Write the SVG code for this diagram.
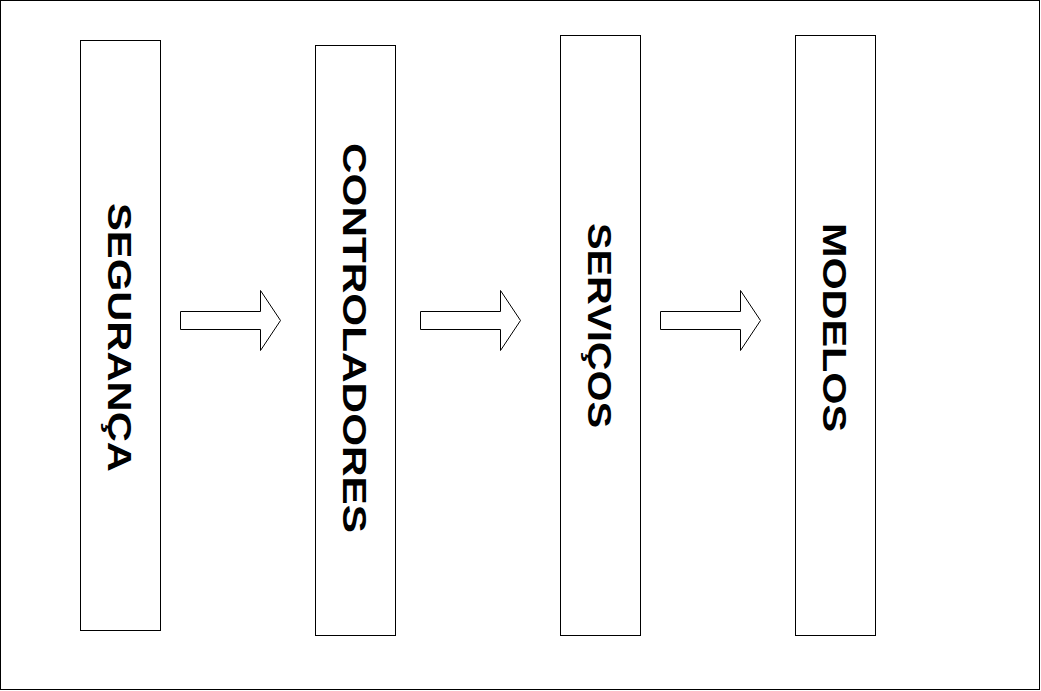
<svg xmlns="http://www.w3.org/2000/svg" width="1041" height="691" viewBox="0 0 1041 691">
<style>
.box{fill:#fff;stroke:#000;stroke-width:1}
.arr{fill:#fff;stroke:#000;stroke-width:1;stroke-linejoin:miter}
.lbl{font-family:"Liberation Sans",Arial,sans-serif;font-weight:bold;font-size:33px;fill:#000;text-anchor:middle}
</style>
<rect x="0.5" y="0.5" width="1039" height="689" fill="#fff" stroke="#000" stroke-width="1"/>
<g id="node-seguranca">
<rect class="box" x="80.5" y="40.5" width="80" height="590"/>
<text class="lbl" transform="translate(108,337.5) rotate(90)" textLength="269" lengthAdjust="spacingAndGlyphs">SEGURANÇA</text>
</g>
<g id="node-controladores">
<rect class="box" x="315.5" y="45.5" width="80" height="590"/>
<text class="lbl" transform="translate(343,338) rotate(90)" textLength="390" lengthAdjust="spacingAndGlyphs">CONTROLADORES</text>
</g>
<g id="node-servicos">
<rect class="box" x="560.5" y="35.5" width="80" height="600"/>
<text class="lbl" transform="translate(588,325.5) rotate(90)" textLength="205" lengthAdjust="spacingAndGlyphs">SERVIÇOS</text>
</g>
<g id="node-modelos">
<rect class="box" x="795.5" y="35.5" width="80" height="600"/>
<text class="lbl" transform="translate(823,327.5) rotate(90)" textLength="209" lengthAdjust="spacingAndGlyphs">MODELOS</text>
</g>
<g id="connectors">
<path class="arr" d="M180.5 311.5 H260.5 V290.5 L280.5 320.5 L260.5 350.5 V329.5 H180.5 Z"/>
<path class="arr" d="M420.5 311.5 H500.5 V290.5 L520.5 320.5 L500.5 350.5 V329.5 H420.5 Z"/>
<path class="arr" d="M660.5 311.5 H740.5 V290.5 L760.5 320.5 L740.5 350.5 V329.5 H660.5 Z"/>
</g>
</svg>
